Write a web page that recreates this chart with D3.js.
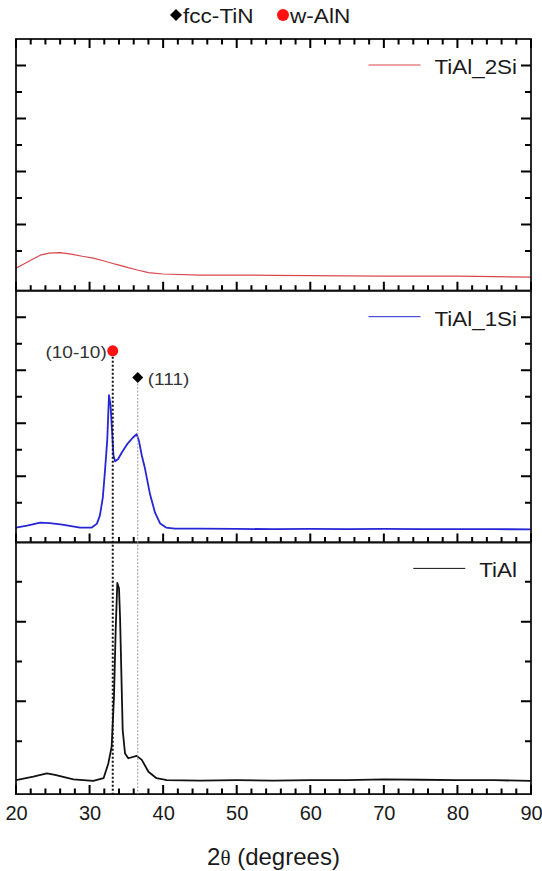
<!DOCTYPE html>
<html>
<head>
<meta charset="utf-8">
<title>XRD TiAl / TiAl_1Si / TiAl_2Si</title>
<script src="https://cdnjs.cloudflare.com/ajax/libs/d3/7.8.5/d3.min.js"></script>
<style>
  body { margin: 0; background: #fff; }
  svg text { font-family: 'Liberation Sans', Arial, sans-serif; }
</style>
</head>
<body>
<svg id="chart" width="542" height="871"></svg>
<script>
  // [2theta (deg), intensity (a.u.)]
  const tial2si = [[20, 85], [21, 100], [22, 115], [23.3, 134], [24.5, 142], [26, 144], [27.5, 138],
    [29, 130], [30.5, 123], [32, 112], [33.5, 100], [35, 89], [36.5, 78], [38, 68], [40, 63],
    [45, 59], [50, 59], [55, 58], [60, 57], [65, 56], [70, 55], [75, 55], [80, 55], [85, 53], [90, 51]];

  const tial1si = [[20, 56], [21.5, 63], [23.3, 75], [24.6, 73], [26.3, 67], [28.7, 56], [30.3, 56],
    [31, 71], [31.4, 101], [31.8, 169], [32.1, 272], [32.4, 385], [32.64, 556], [32.85, 518],
    [33.05, 423], [33.25, 328], [33.46, 306], [33.86, 314], [34.4, 340], [35.2, 374], [35.9, 396],
    [36.4, 408], [36.7, 385], [37.1, 328], [37.5, 283], [38.2, 184], [38.9, 112], [39.6, 71],
    [40.4, 56], [41.6, 52], [45, 52], [50, 51], [55, 50], [60, 51], [65, 50], [70, 51], [75, 50],
    [80, 50], [85, 50], [90, 49]];

  const tial = [[20, 35], [22.35, 44], [24.2, 52], [25.3, 48], [27.8, 37], [30.5, 33], [31.9, 40],
    [32.55, 77], [33.0, 119], [33.32, 245], [33.55, 413], [33.77, 530], [34.0, 517], [34.14, 446],
    [34.31, 312], [34.5, 161], [34.82, 102], [35.26, 90], [36.4, 96], [37.1, 86], [38.0, 56],
    [39.1, 40], [40.5, 35], [45, 34], [50, 35], [55, 34], [60, 35], [65, 35], [70, 37], [75, 36],
    [80, 35], [85, 35], [90, 33]];

  const seriesNames = ["TiAl_2Si", "TiAl_1Si", "TiAl"];
  const seriesData = [tial2si, tial1si, tial];
  const yMax = [950, 950, 632];
  const yMajor = [[250, 450, 650, 850], [250, 450, 650, 850], [233, 433]];
  const yMinor = [[150, 350, 550, 750], [150, 350, 550, 750], [133, 333, 533]];

  const xMajor = [20, 30, 40, 50, 60, 70, 80, 90];
  const xMinor = [22, 24, 26, 28, 32, 34, 36, 38, 42, 44, 46, 48, 52, 54, 56, 58, 62, 64, 66, 68,
    72, 74, 76, 78, 82, 84, 86, 88];

  // reflections marked in the middle panel
  const peakLabels = ["(10-10)", "(111)"];
  const peakTheta = [33.15, 36.55];
  const peakPhase = ["w-AlN", "fcc-TiN"];
  const peakLevel = [723, 622];   // marker height, middle panel units

  const phaseNames = ["fcc-TiN", "w-AlN"];

  // layout
  const mLeft = 16, mRight = 531, mTop = 39, panelH = 251.7;
  const colors = ["#d9474d", "#2626d6", "#111"];
  const widths = [1.2, 1.8, 1.8];
  const red = "#ff1111";

  const svg = d3.select('#chart');
  const x = d3.scaleLinear().domain([20, 90]).range([mLeft, mRight]);

  function stretched(g, txt, sx, size, anchor, fill) {
    return g.append('text')
      .attr('transform', `scale(${sx},1)`)
      .attr('font-size', size)
      .attr('text-anchor', anchor)
      .attr('dy', '0.35em')
      .attr('fill', fill)
      .text(txt);
  }

  function marker(g, phase, size) {
    if (phase === "w-AlN") {
      g.append('circle').attr('r', size / 2).attr('fill', red);
    } else {
      g.append('path')
        .attr('d', d3.symbol(d3.symbolSquare, size * size / 2)())
        .attr('transform', 'rotate(45)')
        .attr('fill', '#000');
    }
  }

  // inward ticks drawn as one path per set
  function xTicks(g, vals, yPos, len) {
    g.append('path')
      .attr('d', vals.map(v => `M${x(v)},${yPos}V${yPos + len}`).join(''))
      .attr('fill', 'none').attr('stroke', '#000').attr('stroke-width', 2);
  }
  function yTicks(g, y, vals, xPos, len) {
    g.append('path')
      .attr('d', vals.map(v => `M${xPos},${y(v)}H${xPos + len}`).join(''))
      .attr('fill', 'none').attr('stroke', '#000').attr('stroke-width', 2);
  }

  const ys = [];
  seriesNames.forEach((name, i) => {
    const y0 = mTop + i * panelH;
    const yEnd = y0 + panelH;
    const y = d3.scaleLinear().domain([0, yMax[i]]).range([yEnd, y0]);
    ys.push(y);
    const g = svg.append('g');

    g.append('clipPath').attr('id', 'clip' + i)
      .append('rect').attr('x', mLeft).attr('y', y0).attr('width', mRight - mLeft).attr('height', panelH);

    g.append('path')
      .datum(seriesData[i])
      .attr('clip-path', `url(#clip${i})`)
      .attr('fill', 'none')
      .attr('stroke', colors[i])
      .attr('stroke-width', widths[i])
      .attr('stroke-linejoin', 'round')
      .attr('d', d3.line().x(d => x(d[0])).y(d => y(d[1])));

    g.append('rect')
      .attr('x', mLeft).attr('y', y0).attr('width', mRight - mLeft).attr('height', panelH)
      .attr('fill', 'none').attr('stroke', '#111').attr('stroke-width', 1.8);

    xTicks(g, xMajor, yEnd, -9);
    xTicks(g, xMinor, yEnd, -5.5);
    if (i === 0) {
      xTicks(g, xMajor, y0, 9);
      xTicks(g, xMinor, y0, 5.5);
    }
    yTicks(g, y, yMajor[i], mLeft, 10);
    yTicks(g, y, yMinor[i], mLeft, 6);
    yTicks(g, y, yMajor[i], mRight, -10);
    yTicks(g, y, yMinor[i], mRight, -6);

    // series label
    const lg = g.append('g').attr('transform', `translate(${mRight - 14},${y0 + 28})`);
    const t = stretched(lg, name, 1.12, 20, 'end', '#1a1a1a');
    const tw = t.node().getComputedTextLength() * 1.12;
    lg.append('line')
      .attr('x1', -tw - 66).attr('x2', -tw - 14).attr('y1', -2).attr('y2', -2)
      .attr('stroke', colors[i]).attr('stroke-width', 1);
  });

  // reflection guide lines through all panels below the markers
  const yMid = ys[1];
  const yBottom = mTop + 3 * panelH;
  peakTheta.forEach((t, k) => {
    const yy = yMid(peakLevel[k]);
    svg.append('line')
      .attr('x1', x(t)).attr('x2', x(t))
      .attr('y1', yy + 6).attr('y2', yBottom)
      .attr('stroke', k === 0 ? '#111' : '#999')
      .attr('stroke-width', k === 0 ? 2 : 1)
      .attr('stroke-dasharray', k === 0 ? '2,2' : '2,1.5');
    const mg = svg.append('g').attr('transform', `translate(${x(t)},${yy})`);
    marker(mg, peakPhase[k], 11);
    const lab = svg.append('g').attr('transform', `translate(${x(t) + (k === 0 ? -6 : 10)},${yy + 1})`);
    stretched(lab, peakLabels[k], 1.12, 17, k === 0 ? 'end' : 'start', '#333');
  });

  // phase legend on top
  const legendX = [176, 283];
  phaseNames.forEach((p, k) => {
    const mg = svg.append('g').attr('transform', `translate(${legendX[k]},15)`);
    marker(mg, p, 12);
    const tg = svg.append('g').attr('transform', `translate(${legendX[k] + 7},16)`);
    stretched(tg, p, 1.13, 20, 'start', '#1a1a1a');
  });

  // x axis labels
  const xa = svg.append('g').attr('transform', `translate(0,${yBottom})`)
    .call(d3.axisBottom(x).tickValues(xMajor).tickSize(0).tickPadding(12));
  xa.select('.domain').remove();
  xa.selectAll('text').attr('font-size', 20).attr('fill', '#1a1a1a')
    .attr('font-family', "'Liberation Sans', Arial, sans-serif");

  const title = svg.append('text')
    .attr('x', (mLeft + mRight) / 2).attr('y', 865)
    .attr('text-anchor', 'middle')
    .attr('font-size', 24)
    .attr('fill', '#1a1a1a');
  title.append('tspan').text('2');
  title.append('tspan').attr('font-family', "'Liberation Serif', serif").attr('font-size', 21).text('θ');
  title.append('tspan').text(' (degrees)');
</script>
</body>
</html>
